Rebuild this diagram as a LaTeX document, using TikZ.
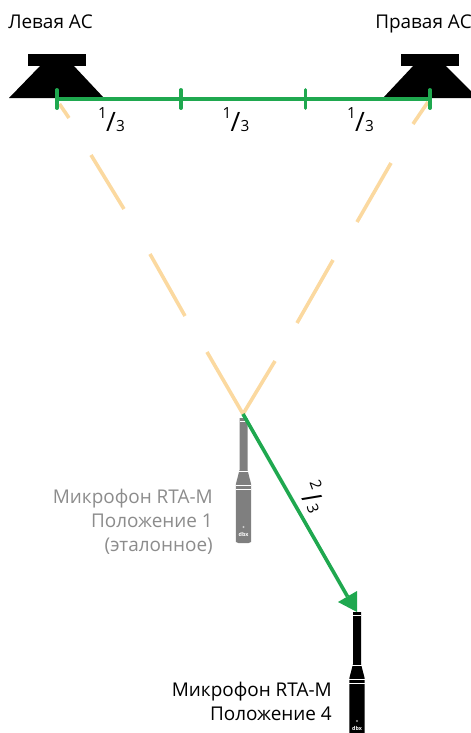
\documentclass[tikz,border=0pt]{standalone}
\usepackage{fontspec}
\usepackage{graphicx}
\setmainfont{Open Sans}
\definecolor{grn}{HTML}{1FA84F}
\definecolor{peach}{HTML}{FBD9A0}
\definecolor{micg}{HTML}{7F7F7F}
\definecolor{txtg}{HTML}{8C8C8C}
\tikzset{
 lab/.style={inner sep=0pt,font=\fontsize{14.2pt}{16pt}\selectfont,text=black},
 labg/.style={lab,text=txtg},
 dashseg/.style={draw=peach,line width=2.7pt},
 gline/.style={draw=grn,line width=2.7pt},
 tick/.style={draw=grn,line width=2.4pt,line cap=round},
 numtop/.style={inner sep=0pt,font=\fontsize{11.5pt}{12pt}\selectfont},
 numbot/.style={inner sep=0pt,font=\fontsize{11.5pt}{12pt}\selectfont},
 slash/.style={inner sep=0pt,font=\fontsize{20pt}{22pt}\selectfont},
}
\newcommand{\mymic}[3]{% x center, y top, colour
 \fill[#3] (#1-4,#2) -- (#1+4,#2) -- (#1+4,#2+52) -- (#1+7.6,#2+66) -- (#1+7.6,#2+124) -- (#1+5,#2+125) -- (#1-5,#2+125) -- (#1-7.6,#2+124) -- (#1-7.6,#2+66) -- (#1-4,#2+52) -- cycle;
 \draw[white,line width=.5pt] (#1-4,#2+3) -- (#1+4,#2+3);
 \draw[white,line width=.7pt] (#1-4.6,#2+53) -- (#1+4.6,#2+53);
 \draw[white,line width=.6pt] (#1-7.6,#2+67) -- (#1+7.6,#2+67);
 \draw[white,line width=.6pt] (#1-7.6,#2+71) -- (#1+7.6,#2+71);
 \fill[white,opacity=.6] (#1,#2+109) circle (1.1);
 \node[inner sep=0pt,text=white,font=\bfseries\fontsize{4pt}{4pt}\selectfont] at (#1,#2+116) {dbx};
}
\begin{document}
\begin{tikzpicture}[x=0.75pt,y=-0.75pt]
\useasboundingbox (0,0) rectangle (471,733);
\clip (0,0) rectangle (471,733);
% speakers
\fill[black] (27.5,54) rectangle (85.5,65.5);
\fill[black] (41,65) -- (73,65) -- (104,98) -- (9,98) -- cycle;
\fill[black] (401,54) rectangle (459,65.5);
\fill[black] (414,65) -- (445,65) -- (478,98) -- (383,98) -- cycle;
% coordinates
\coordinate (L) at (57,99); \coordinate (T1) at (181,99); \coordinate (T2) at (305.5,99); \coordinate (R) at (430,99);
\coordinate (apex) at (243,414);
\coordinate (tip) at (357,612);
% peach dashes
\draw[dashseg] (59.5,104) -- (69,118);
\draw[dashseg] (91,155) -- (124,209);
\draw[dashseg] (150,254) -- (185,316);
\draw[dashseg] (207,352) -- (apex);
\draw[dashseg] (428,102) -- (413,124);
\draw[dashseg] (391,163) -- (357,222);
\draw[dashseg] (333,260) -- (297,323);
\draw[dashseg] (275,361) -- (apex);
% green scale
\draw[gline] (L) -- (R);
\foreach \p in {L,T1,T2,R}{
  \draw[tick] ([yshift=-7pt]\p) -- ([yshift=7pt]\p);
}
% mics
\mymic{243.5}{418}{micg}
\mymic{357}{612}{black}
% arrow
\coordinate (arrowbase) at (347.5,596.5);
\draw[gline] (apex) -- (arrowbase);
\fill[grn] (tip) -- (338,602) -- (357,591) -- cycle;
% labels
\node[lab,anchor=base west] (lleft) at (8,28) {Левая АС};
\node[lab,anchor=base west] (lright) at (375,28) {Правая АС};
\node[labg,anchor=base east] (m1a) at (213,503) {Микрофон RTA-M};
\node[labg,anchor=base east] (m1b) at (213,527) {Положение 1};
\node[labg,anchor=base east] (m1c) at (213,551) {(эталонное)};
\node[lab,anchor=base east] (m2a) at (332,696) {Микрофон RTA-M};
\node[lab,anchor=base east] (m2b) at (332,720) {Положение 4};
% fractions
\foreach \n/\x in {a/0,b/124.5,c/249}{
  \node[numtop] (t\n) at (102.5+\x,113) {1};
  \node[slash] (s\n) at (111+\x,122) {/};
  \node[numbot] (b\n) at (120.5+\x,126) {3};
}
\node[numtop] (t2) at (316,484.5) {\rotatebox{-70}{2}};
\node[slash] (s2) at (312.5,497.5) {\rotatebox{-60}{/}};
\node[numbot] (b2) at (313,508.5) {\rotatebox{-70}{3}};
\end{tikzpicture}
\end{document}
